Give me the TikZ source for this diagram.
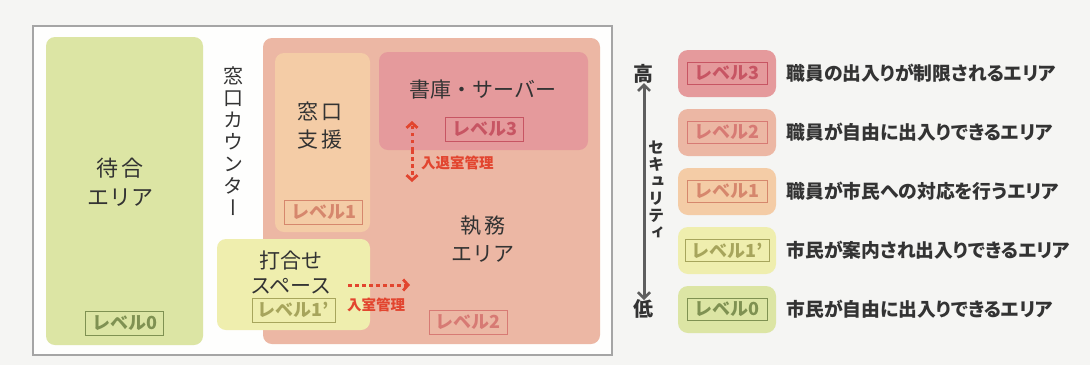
\documentclass[tikz,border=0pt]{standalone}
\usepackage{fontspec}
\usepackage{graphicx}
\setmainfont{Noto Sans CJK JP}
\newfontfamily\vfont[RawFeature=+vert]{Noto Sans CJK JP}
\newfontfamily\pfont[RawFeature=+palt]{Noto Sans CJK JP}
\usetikzlibrary{arrows.meta}
\definecolor{bgout}{HTML}{F5F5F3}
\definecolor{bgin}{HTML}{FEFEFD}
\definecolor{framec}{HTML}{A5A5A5}
\definecolor{txt}{HTML}{333333}
\definecolor{lv0}{HTML}{DCE5A4}
\definecolor{lv0t}{HTML}{7F9152}
\definecolor{lv1d}{HTML}{EFEEAE}
\definecolor{lv1dt}{HTML}{A7A55C}
\definecolor{lv1}{HTML}{F4CCA6}
\definecolor{lv1t}{HTML}{D6876D}
\definecolor{lv2}{HTML}{ECB7A4}
\definecolor{lv2t}{HTML}{D77A74}
\definecolor{lv3}{HTML}{E59A9C}
\definecolor{lv3t}{HTML}{C75563}
\definecolor{redarr}{HTML}{E2452F}
\definecolor{greyarr}{HTML}{5E5E5E}
\tikzset{
  area/.style={rounded corners=9pt, inner sep=0pt},
  lab/.style={draw, line width=0.8pt, inner sep=0pt, minimum width=78pt, minimum height=24pt,
    font=\bfseries\fontsize{18}{18}\selectfont},
  big/.style={text=txt, align=center, font=\fontsize{21}{28}\selectfont},
  legbox/.style={rounded corners=10pt, inner sep=0pt, minimum width=98pt, minimum height=47pt},
  legtxt/.style={anchor=west, text=txt, font=\pfont\bfseries\fontsize{18.8}{19}\selectfont},
  redarrow/.style={draw=redarr, line width=3pt, dash pattern=on 3.5pt off 3.5pt,
    -{Straight Barb[length=5pt,width=11pt,line width=2.8pt]}},
  redlab/.style={text=redarr, font=\bfseries\fontsize{14.5}{15}\selectfont, inner sep=0pt}
}
\begin{document}
\begin{tikzpicture}[x=1pt,y=-1pt]
\fill[bgout] (0,0) rectangle (1090,365);
\useasboundingbox (0,0) rectangle (1090,365);
% frame
\node[draw=framec, line width=1.5pt, fill=bgin, inner sep=0pt, minimum width=579pt, minimum height=329pt] (frame) at (322.5,190.5) {};
% areas
\node[area, fill=lv0, minimum width=157pt, minimum height=308pt] (wait) at (124.5,191) {};
\node[area, fill=lv2, minimum width=337pt, minimum height=306pt] (office) at (431.5,191) {};
\node[area, fill=lv1, minimum width=95pt, minimum height=179pt] (mado) at (322.5,142.5) {};
\node[area, fill=lv3, minimum width=209pt, minimum height=98pt] (shoko) at (483.5,101) {};
\node[area, fill=lv1d, minimum width=153pt, minimum height=91pt] (uchi) at (293.5,284.5) {};
% texts
\node[big, font=\fontsize{22}{29}\selectfont] (waitT) at (120,182) {待\,合\\エリア};
\node[text=txt, align=center, font=\vfont\fontsize{20}{22}\selectfont] (counter) at (233,141.5) {窓\\口\\カ\\ウ\\ン\\タ\\ー};
\node[big] (madoT) at (320,126) {窓\,口\\支\,援};
\node[big] (shokoT) at (483,90) {書庫・サーバー};
\node[big] (officeT) at (483,239) {執\,務\\エリア};
\node[big, font=\fontsize{21}{25}\selectfont] (uchiT) at (291,272.5) {打合せ\\スペース};
% labels
\node[lab, draw=lv0t, text=lv0t] (l0) at (124.5,323.5) {レベル0};
\node[lab, draw=lv1t, text=lv1t] (l1) at (323.5,212) {レベル1};
\node[lab, draw=lv3t, text=lv3t] (l3) at (484.5,129.5) {レベル3};
\node[lab, draw=lv2t, text=lv2t] (l2) at (468,322) {レベル2};
\node[lab, draw=lv1dt, text=lv1dt, minimum width=83pt] (l1d) at (293.5,310) {レベル1'};
% red arrows
\coordinate (h1) at (348,285);
\coordinate (h2) at (410,285);
\draw[redarrow] (h1) -- (h2);
\node[redlab] (inT) at (376,305) {入室管理};
\coordinate (v1) at (412,150);
\coordinate (v2) at (412,121);
\coordinate (v3) at (412,182);
\draw[redarrow] (v1) -- (v2);
\draw[redarrow] (v1) -- (v3);
\node[redlab, anchor=west] (inoutT) at (421,163) {入退室管理};
% legend
\node[text=txt, font=\bfseries\fontsize{20}{20}\selectfont] (high) at (643,74) {高};
\node[text=txt, font=\bfseries\fontsize{20}{20}\selectfont] (low) at (643,309) {低};
\draw[greyarr, line width=3pt, {Straight Barb[length=6pt,width=12pt,line width=2.6pt]}-{Straight Barb[length=6pt,width=12pt,line width=2.6pt]}] ([xshift=1pt,yshift=4pt]high.south) -- ([xshift=1pt,yshift=-4pt]low.north);
\node[text=txt, align=center, font=\vfont\bfseries\fontsize{16}{17}\selectfont] (sec) at (656,190) {セ\\キ\\ュ\\リ\\テ\\ィ};
\foreach \n/\y/\c/\t/\d in {3/73.5/lv3/lv3t/職員の出入りが制限されるエリア,
  2/132.5/lv2/lv2t/職員が自由に出入りできるエリア,
  1/191.5/lv1/lv1t/職員が市民への対応を行うエリア,
  d/250.5/lv1d/lv1dt/市民が案内され出入りできるエリア,
  0/309.5/lv0/lv0t/市民が自由に出入りできるエリア}{
  \node[legbox, fill=\c] (lb\n) at (727,\y) {};
  \node[legtxt] (ld\n) at (783,\y) {\d};
}
\node[lab, draw=lv3t, text=lv3t, minimum width=80pt, minimum height=22pt] (ll3) at (lb3) {レベル3};
\node[lab, draw=lv2t, text=lv2t, minimum width=80pt, minimum height=22pt] (ll2) at (lb2) {レベル2};
\node[lab, draw=lv1t, text=lv1t, minimum width=80pt, minimum height=22pt] (ll1) at (lb1) {レベル1};
\node[lab, draw=lv1dt, text=lv1dt, minimum width=84pt, minimum height=22pt] (ll1d) at (lbd) {レベル1'};
\node[lab, draw=lv0t, text=lv0t, minimum width=80pt, minimum height=22pt] (ll0) at (lb0) {レベル0};
\end{tikzpicture}
\end{document}
